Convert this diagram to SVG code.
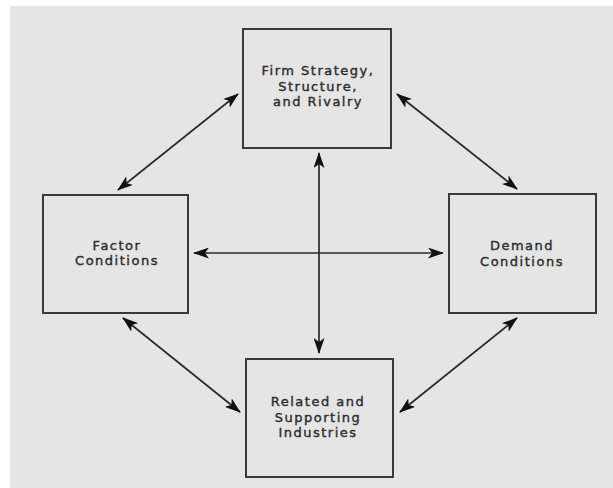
<svg xmlns="http://www.w3.org/2000/svg" width="613" height="488" viewBox="0 0 613 488">
<style>
.box{fill:#e5e5e5;stroke:#3a3a3a;stroke-width:2}
.lbl{font-family:"DejaVu Sans",sans-serif;font-size:13px;fill:#2e2e2e;stroke:#2e2e2e;stroke-width:0.4;text-anchor:middle;letter-spacing:1.5px}
.con{stroke:#2a2a2a;stroke-width:1.7;fill:none;marker-start:url(#ah);marker-end:url(#ah)}
</style>
<defs>
<marker id="ah" viewBox="0 0 16 11" refX="15" refY="5.5" markerWidth="16" markerHeight="11" markerUnits="userSpaceOnUse" orient="auto-start-reverse">
<path d="M0,0 L16,5.5 L0,11 L4,5.5 Z" fill="#111"/>
</marker>
</defs>
<rect x="0" y="0" width="613" height="488" fill="#ffffff"/>
<rect x="10" y="6" width="603" height="482" fill="#e5e5e5"/>
<g id="connectors">
<line class="con" x1="238" y1="94" x2="118" y2="190"/>
<line class="con" x1="397" y1="94" x2="517" y2="189"/>
<line class="con" x1="123" y1="318" x2="240" y2="412"/>
<line class="con" x1="517" y1="318" x2="400" y2="412"/>
<line class="con" x1="194" y1="253" x2="443" y2="253"/>
<line class="con" x1="319" y1="153" x2="319" y2="353"/>
</g>
<g id="firm">
<rect class="box" x="243" y="29" width="148" height="119"/>
<text class="lbl" x="318" y="75">Firm Strategy,</text>
<text class="lbl" x="318" y="91">Structure,</text>
<text class="lbl" x="318" y="106">and Rivalry</text>
</g>
<g id="factor">
<rect class="box" x="43" y="195" width="145" height="118"/>
<text class="lbl" x="117" y="250">Factor</text>
<text class="lbl" x="117" y="265">Conditions</text>
</g>
<g id="demand">
<rect class="box" x="449" y="194" width="147" height="119"/>
<text class="lbl" x="522" y="250">Demand</text>
<text class="lbl" x="522" y="266">Conditions</text>
</g>
<g id="related">
<rect class="box" x="246" y="359" width="147" height="118"/>
<text class="lbl" x="318" y="406">Related and</text>
<text class="lbl" x="318" y="422">Supporting</text>
<text class="lbl" x="318" y="437">Industries</text>
</g>
</svg>
